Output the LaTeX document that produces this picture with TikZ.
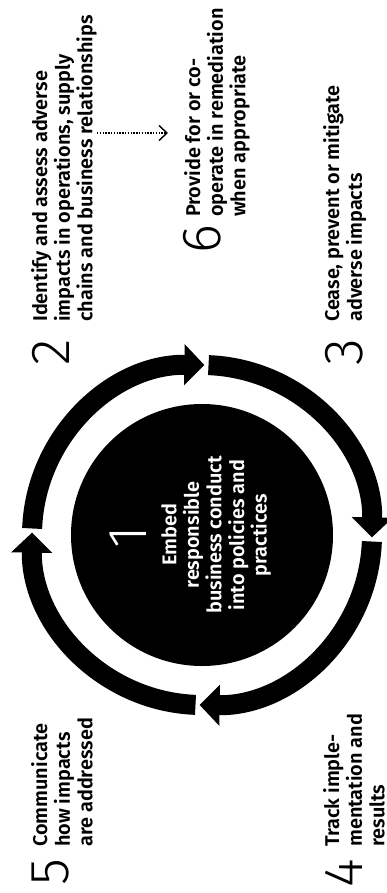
\documentclass[tikz,border=0pt]{standalone}
\usepackage{fontspec}
\setmainfont{Fira Sans}[UprightFont=* SemiBold]
\newfontfamily\numfont{Fira Sans Light}
\usetikzlibrary{arrows.meta,calc}

\begin{document}
\begin{tikzpicture}[x=1pt,y=1pt,
  ring/.style={line width=20pt,-{Triangle[length=20pt,width=40pt]}},
  stage/.style={rotate=90,anchor=north west,inner sep=0pt,align=left,
    font=\fontsize{19.9}{22.6}\selectfont},
  num/.style={rotate=90,anchor=north west,inner sep=0pt,
    font=\numfont\fontsize{55}{55}\selectfont},
  dotarrow/.style={line width=1.4pt,dash pattern=on 1.4pt off 1.4pt,
    -{Straight Barb[length=8pt,width=15pt]}}]

\useasboundingbox (0,0) rectangle (386,-893);

\coordinate (c) at (202,-535);
\node[circle,fill=black,minimum size=262pt,inner sep=0pt] (core) at (c) {};

% the cycle
\foreach \g in {90,0,-90,-180}
  \draw[ring] ($(c)+(\g+87.8:170)$) arc[start angle=\g+87.8,end angle=\g-0.8,radius=170];

\node[num,anchor=north,text=white] (n1) at (110,-537) {1};
\node[stage,anchor=north,align=center,text=white] (t1) at (161,-535)
  {Embed\\responsible\\business conduct\\into policies and\\practices};

\node[num] (n2) at (32,-366) {2};
\node[stage] (t2) at (31,-322) {Identify and assess adverse\\impacts in operations, supply\\chains and business relationships};

\node[num] (n3) at (325,-366) {3};
\node[stage] (t3) at (323,-322) {Cease, prevent or mitigate\\adverse impacts};

\node[num] (n4) at (325,-888) {4};
\node[stage] (t4) at (323,-847) {Track imple-\\mentation and\\results};

\node[num] (n5) at (32,-886) {5};
\node[stage] (t5) at (31,-847) {Communicate\\how impacts\\are addressed};

\node[num] (n6) at (183,-254) {6};
\node[stage] (t6) at (184,-217) {Provide for or co-\\operate in remediation\\when appropriate};

\coordinate (lvl) at (0,-133);
\draw[dotarrow,shorten >=16pt] (t2.south |- lvl) -- (t6.north |- lvl);

\end{tikzpicture}
\end{document}
